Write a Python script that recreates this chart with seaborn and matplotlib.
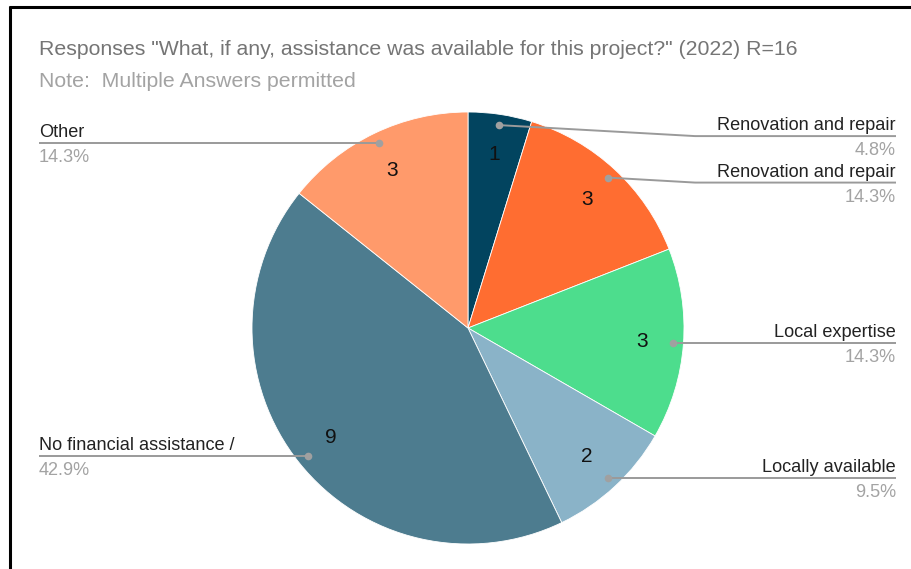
import matplotlib
matplotlib.use("Agg")
import matplotlib.pyplot as plt
import numpy as np
import seaborn as sns

# Survey responses (multiple answers permitted)
categories = [
    "Renovation and repair",
    "Renovation and repair",
    "Local expertise",
    "Locally available",
    "No financial assistance /",
    "Other",
]
counts = [1, 3, 3, 2, 9, 3]
colors = ["#02445f", "#ff6d31", "#4ddd8d", "#8ab3c8", "#4d7c8f", "#ff9a6b"]

title = "Responses \"What, if any, assistance was available for this project?\" (2022) R=16"
subtitle = "Note:  Multiple Answers permitted"

sns.set_theme(style="white")
plt.rcParams["font.family"] = ["Liberation Sans", "DejaVu Sans"]

W, H = 912, 569
fig = plt.figure(figsize=(W / 100, H / 100), dpi=100)
ax = fig.add_axes([0, 0, 1, 1])

# pixel helper: image coords (y down) -> axes data coords (y up)
def P(x, y):
    return x, H - y

cx, cy, R = 468, 328, 216
total = sum(counts)

wedges, _, autotexts = ax.pie(
    counts,
    colors=colors,
    startangle=90,
    counterclock=False,
    center=P(cx, cy),
    radius=R,
    autopct=lambda p: f"{round(p * total / 100)}",
    pctdistance=0.81,
    wedgeprops=dict(linewidth=0.6, edgecolor="white"),
    textprops=dict(fontsize=15, color="#111111"),
    frame=True,
)
ax.set_xlim(0, W)
ax.set_ylim(0, H)
ax.set_aspect("equal")
ax.axis("off")

# leader lines and outside labels
line_shift = [11, 5, 0, 0, 0, 0]
grey_line = "#9a9a9a"
for w, name, cnt, dy in zip(wedges, categories, counts, line_shift):
    mid = np.deg2rad((w.theta1 + w.theta2) / 2)
    dx_, dy_ = np.cos(mid), np.sin(mid)
    px, py = cx + 0.95 * R * dx_, cy - 0.95 * R * dy_
    ly = py + dy
    pct = f"{cnt / total * 100:.1f}%"
    if px >= cx:
        ex, tx, ha = max(px, 695), 896, "right"
    else:
        ex, tx, ha = min(px, 240), 39, "left"
    xs = [px, ex, tx]
    ys = [py, ly, ly]
    ax.plot([P(x, y)[0] for x, y in zip(xs, ys)],
            [P(x, y)[1] for x, y in zip(xs, ys)],
            color=grey_line, lw=1.4, solid_capstyle="butt", zorder=4)
    ax.plot(*P(px, py), "o", ms=5.5, color="#a0a0a0", mec="none", zorder=5)
    ax.text(*P(tx, ly - 6), name, ha=ha, va="baseline",
            fontsize=13.1, color="#222222")
    ax.text(*P(tx, ly + 6), pct, ha=ha, va="top",
            fontsize=13.1, color="#a3a3a3")

# title and note
ax.text(*P(39, 55), title, ha="left", va="baseline", fontsize=15.3, color="#757575")
ax.text(*P(39, 87), subtitle, ha="left", va="baseline", fontsize=15.3, color="#a3a3a3")

# frame on the top and left edges
ax.plot([P(9, 7)[0], W], [P(9, 7)[1], P(9, 7)[1]], color="black", lw=2.2,
        solid_capstyle="butt", clip_on=False)
ax.plot([P(10, 6)[0], P(10, 6)[0]], [P(10, 6)[1], 0], color="black", lw=2.2,
        solid_capstyle="butt", clip_on=False)

fig.savefig("out.png", dpi=100)
